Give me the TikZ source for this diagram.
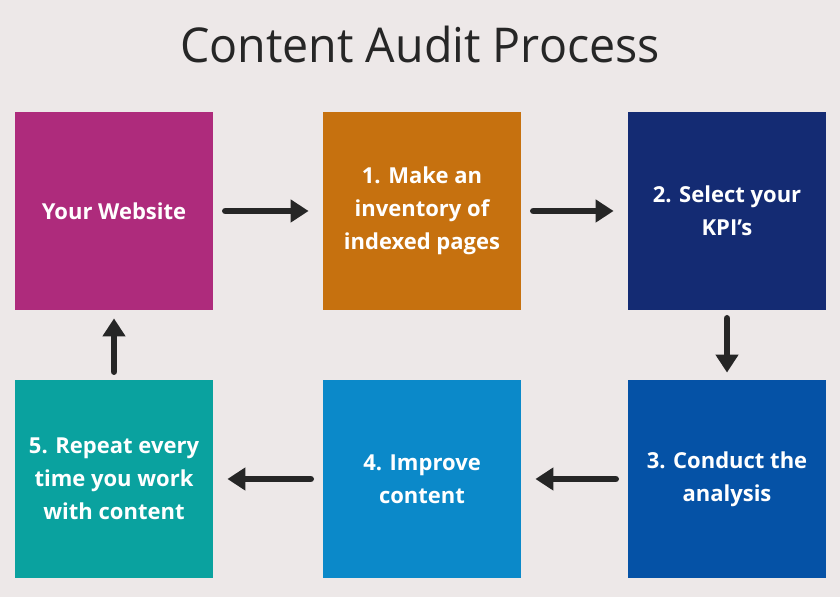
\documentclass[tikz,border=0pt]{standalone}
\usepackage{fontspec}
\setmainfont{Open Sans}
\usepackage{tikz}
\usetikzlibrary{arrows.meta}
\definecolor{bgpaper}{HTML}{EDE8E8}
\definecolor{site}{HTML}{AE2B7C}
\definecolor{inventory}{HTML}{C6710F}
\definecolor{kpi}{HTML}{142B73}
\definecolor{analysis}{HTML}{0552A6}
\definecolor{improve}{HTML}{0B89C9}
\definecolor{repeat}{HTML}{0AA29F}
\definecolor{inkarrow}{HTML}{262626}

\begin{document}
\begin{tikzpicture}[x=0.5pt,y=-0.5pt,
  stepbox/.style={minimum width=99pt,minimum height=99pt,inner sep=0pt,
    text=white,align=center,font=\fontsize{11}{16.5}\selectfont\bfseries},
  flow/.style={draw=inkarrow,line width=3.4pt,line cap=round,
    -{Triangle[length=9pt,width=11pt]}}]
\fill[bgpaper] (0,0) rectangle (840,597);
\node[font=\fontsize{24}{30}\selectfont,text=black!85,xscale=0.97] (title) at (420,45) {Content Audit Process};
% top row
\node[stepbox,fill=site] (website) at (114,211) {Your Website};
\node[stepbox,fill=inventory] (inventory) at (422,211) {1. Make an\\inventory of\\indexed pages};
\node[stepbox,fill=kpi] (kpi) at (727,211) {2. Select your\\KPI's};
% bottom row
\node[stepbox,fill=analysis] (analysis) at (727,479) {3. Conduct the\\analysis};
\node[stepbox,fill=improve] (improve) at (422,479) {4. Improve\\content};
\node[stepbox,fill=repeat] (repeat) at (114,479) {5. Repeat every\\time you work\\with content};
% connectors
\draw[flow,shorten <=6pt,shorten >=7pt] (website) -- (inventory);
\draw[flow,shorten <=6pt,shorten >=7pt] (inventory) -- (kpi);
\draw[flow,shorten <=4pt,shorten >=3.5pt] (kpi) -- (analysis);
\draw[flow,shorten <=6pt,shorten >=7pt] (analysis) -- (improve);
\draw[flow,shorten <=6pt,shorten >=7pt] (improve) -- (repeat);
\draw[flow,shorten <=4pt,shorten >=4pt] (repeat) -- (website);
\end{tikzpicture}
\end{document}
